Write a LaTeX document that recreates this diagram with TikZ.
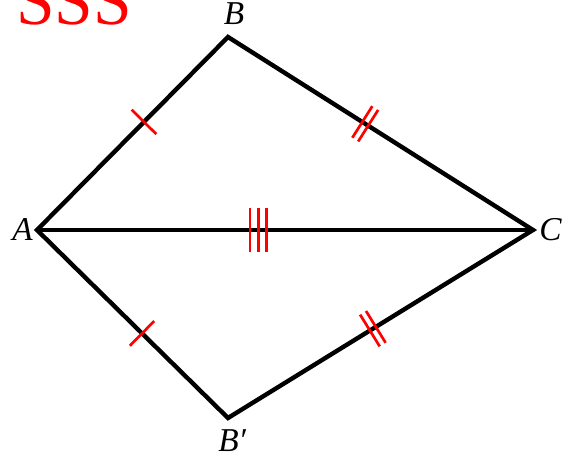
\documentclass[tikz,border=0pt]{standalone}
\usepackage{fontspec}
\setmainfont{Liberation Serif}
\usetikzlibrary{decorations.markings}
\tikzset{
  side/.style    ={line width=3.3pt, line join=miter},
  tickline/.style={red, line width=2pt},
  tickone/.style ={postaction={decorate, decoration={markings,
                   mark=at position #1 with {\draw[tickline] (0,-13pt) -- (0,13pt);}}}},
  ticktwo/.style ={postaction={decorate, decoration={markings,
                   mark=at position #1 with {\draw[tickline] (-2.6pt,-14pt) -- (-2.6pt,14pt);
                                             \draw[tickline] (2.6pt,-14pt) -- (2.6pt,14pt);}}}},
  tickthree/.style={postaction={decorate, decoration={markings,
                   mark=at position #1 with {\draw[tickline] (-6.2pt,-16.5pt) -- (-6.2pt,16.5pt);
                                             \draw[tickline] (0pt,-16.5pt) -- (0pt,16.5pt);
                                             \draw[tickline] (6.2pt,-16.5pt) -- (6.2pt,16.5pt);}}}},
  vlabel/.style  ={font=\fontsize{25}{30}\selectfont\itshape, inner sep=0pt},
  title/.style   ={font=\fontsize{52}{60}\selectfont, text=red, inner sep=0pt},
}
\begin{document}
\begin{tikzpicture}[x=0.75pt, y=-0.75pt]
  \useasboundingbox (0,0) rectangle (566,459);
  \clip (0,0) rectangle (566,459);

  % vertices
  \coordinate (A)  at (37,230);
  \coordinate (B)  at (228,37);
  \coordinate (C)  at (533,230);
  \coordinate (B2) at (228,418);

  \draw[side] (A) -- (B) -- (C) -- (B2) -- cycle;
  \draw[side] (A) -- (C);

  % equal sides
  \path[tickone=0.56]    (A) -- (B);
  \path[tickone=0.55]    (A) -- (B2);
  \path[ticktwo=0.45]    (B) -- (C);
  \path[ticktwo=0.475]   (B2) -- (C);
  \path[tickthree=0.446] (A) -- (C);

  \node[vlabel, anchor=base east] (lA)  at (33,240)  {A};
  \node[vlabel, anchor=base]      (lB)  at (234,25)  {B};
  \node[vlabel, anchor=base west] (lC)  at (539,240) {C};
  \node[vlabel, anchor=base west] (lB2) at (218,451) {B′};

  \node[title, anchor=base west] (sss) at (16,25) {SSS};
\end{tikzpicture}
\end{document}
